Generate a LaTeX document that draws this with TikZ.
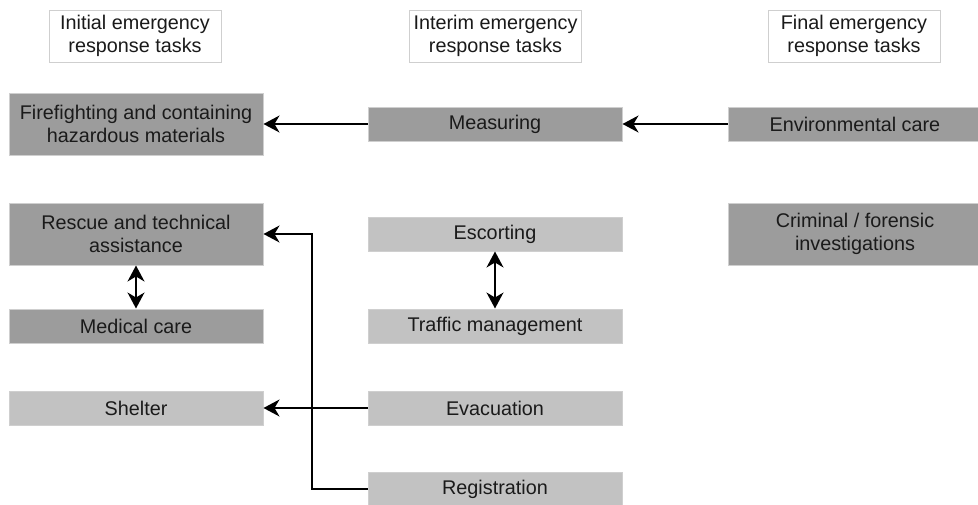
\documentclass[tikz,border=0pt]{standalone}
\usepackage{fontspec}
\setmainfont{Liberation Sans}
\usetikzlibrary{arrows.meta}
\definecolor{darkfill}{HTML}{9C9C9C}
\definecolor{lightfill}{HTML}{C2C2C2}
\definecolor{boxline}{HTML}{CFCFCF}
\definecolor{txt}{HTML}{1A1A1A}
\tikzset{
  base/.style={draw=boxline, line width=1pt, inner sep=0pt, align=center, text=txt,
    font=\fontsize{19.8}{22.5}\selectfont, minimum width=254pt},
  head/.style={base, fill=white, draw=boxline, minimum width=172pt, minimum height=52pt},
  darkbox/.style={base, fill=darkfill},
  lightbox/.style={base, fill=lightfill},
  tall/.style={minimum height=62pt},
  short/.style={minimum height=34pt},
  conn/.style={line width=1.5pt, draw=black},
  tip/.style={},
  arr/.style={conn, -{Stealth[length=16pt,width=17pt,inset=5pt]}},
  darr/.style={conn, {Stealth[length=16pt,width=17pt,inset=5pt]}-{Stealth[length=16pt,width=17pt,inset=5pt]}}
}
\begin{document}
\begin{tikzpicture}[x=1pt,y=-1pt]
\useasboundingbox (0,0) rectangle (978,504);
\clip (0,0) rectangle (978,504);
\node[head] (h1) at (135,36) {Initial emergency\\response tasks};
\node[head] (h2) at (495.5,36) {Interim emergency\\response tasks};
\node[head] (h3) at (854,36) {Final emergency\\response tasks};

\node[darkbox,tall] (ff) at (136,124) {Firefighting and containing\\hazardous materials};
\node[darkbox,short] (meas) at (495,124) {Measuring};
\node[darkbox,short] (env) at (855,124) {Environmental care};

\node[darkbox,tall] (resc) at (136,234) {Rescue and technical\\assistance};
\node[darkbox,short] (med) at (136,326) {Medical care};
\node[lightbox,short] (esc) at (495,234) {Escorting};
\node[lightbox,short] (traf) at (495,326) {Traffic management};
\node[darkbox,tall] (crim) at (855,234) {Criminal / forensic\\investigations};

\node[lightbox,short] (shel) at (136,408) {Shelter};
\node[lightbox,short] (evac) at (495,408) {Evacuation};
\node[lightbox,short] (reg) at (495,489) {Registration};

\draw[arr] (meas.west) -- (ff.east);
\draw[arr] (env.west) -- (meas.east);
\draw[darr] (resc.south) -- (med.north);
\draw[darr] (esc.south) -- (traf.north);
\draw[arr] (evac.west) -- (shel.east);
\coordinate (bend) at (312,489);
\draw[arr] (reg.west) -- (bend) |- (resc.east);
\end{tikzpicture}
\end{document}
